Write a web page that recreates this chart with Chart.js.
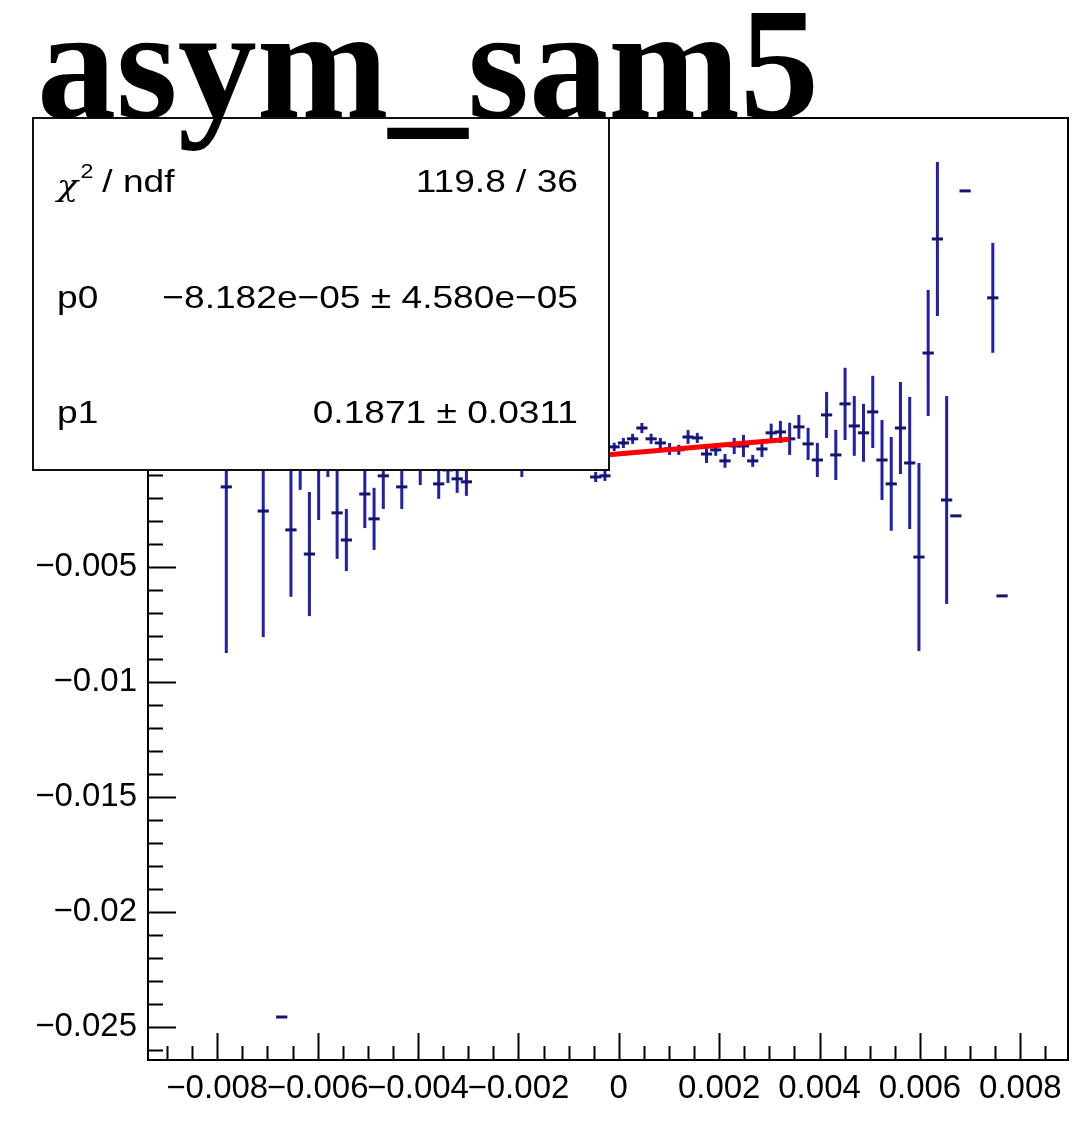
<!DOCTYPE html>
<html>
<head>
<meta charset="utf-8">
<script src="https://cdn.jsdelivr.net/npm/chart.js@4.4.1/dist/chart.umd.min.js"></script>
<style>
  html, body { margin: 0; padding: 0; background: #fff; }
  #wrap { width: 1088px; height: 1128px; }
</style>
</head>
<body>
<div id="wrap"><canvas id="asym-chart" width="1088" height="1128"></canvas></div>
<script>
const chartTitle = 'asym_sam5';

// histogram binning (100 bins)
const binLow = -0.0092;
const binWidth = 0.000184;

// filled bins, contents and errors
const bins = [7, 11, 13, 14, 15, 16, 17, 18, 19, 20, 22, 23, 24, 26, 28, 30, 31, 32, 33,
  34, 35, 36, 37, 38, 39, 40, 41, 42, 43, 44, 45, 46, 47, 48, 49, 50, 51, 52, 53, 54,
  55, 56, 57, 58, 59, 60, 61, 62, 63, 64, 65, 66, 67, 68, 69, 70, 71, 72, 73, 74, 75,
  76, 77, 78, 79, 80, 81, 82, 83, 84, 85, 86, 87, 90, 91];
const values = [-0.00152, -0.00257, -0.02457, -0.00339, -0.00013, -0.00444, -0.00035, -0.00044, -0.00265, -0.00383,
  -0.00183, -0.00291, -0.00104, -0.00152, -0.00061, -0.00139, -0.00078, -0.00117, -0.00130,
  -0.00050, -0.00040, -0.00050, -0.00030, -0.00040, -0.00057, -0.00030, -0.00020, -0.00040, -0.00010, -0.00030,
  -0.00020, -0.00040, -0.00109, -0.00104, 0.00022, 0.00039, 0.00057, 0.00104, 0.00057, 0.00039,
  0.00013, 0.00009, 0.00065, 0.00061, -0.00009, 0.00009, -0.00039, 0.00026, 0.00026, -0.00039,
  0.00013, 0.00083, 0.00087, 0.00057, 0.00109, 0.00035, -0.00035, 0.00161, -0.00013, 0.00209, 0.00113,
  0.00083, 0.00174, -0.00035, -0.00139, 0.00104, -0.00048, -0.00457, 0.00430, 0.00926, -0.00209,
  -0.00278, 0.01135, 0.00670, -0.00626];
const errors = [0.00722, 0.00548, 0, 0.00291, 0.00152, 0.00270, 0.00261, 0.00065, 0.00200, 0.00135,
  0.00148, 0.00135, 0.00144, 0.00096, 0.00083, 0.00065, 0.00057, 0.00061, 0.00061,
  0.00030, 0.00030, 0.00028, 0.00028, 0.00027, 0.00052, 0.00025, 0.00025, 0.00024, 0.00024, 0.00023,
  0.00023, 0.00022, 0.00022, 0.00022, 0.00018, 0.00022, 0.00022, 0.00022, 0.00022, 0.00022,
  0.00026, 0.00022, 0.00030, 0.00022, 0.00039, 0.00026, 0.00030, 0.00035, 0.00048, 0.00026,
  0.00035, 0.00040, 0.00048, 0.00070, 0.00052, 0.00070, 0.00074, 0.00100, 0.00109, 0.00157, 0.00130,
  0.00126, 0.00157, 0.00174, 0.00204, 0.00200, 0.00287, 0.00409, 0.00274, 0.00335, 0.00452,
  0, 0, 0.00239, 0];

// pol1 fit
const fitP0 = -8.182e-05;
const fitP1 = 0.1871;
const fitRange = [-0.0034, 0.0034];

const xTicks = [-0.008, -0.006, -0.004, -0.002, 0, 0.002, 0.004, 0.006, 0.008];
const yTicks = [0.01, 0.005, 0, -0.005, -0.01, -0.015, -0.02, -0.025];

const statsRows = [
  ['chi2', '119.8 / 36'],
  ['p0', '\u22128.182e\u221205 \u00b1 4.580e\u221205'],
  ['p1', '0.1871 \u00b1 0.0311'],
];

const points = bins.map((b, i) => ({ x: binLow + (b + 0.5) * binWidth, y: values[i], err: errors[i] }));
const fitLine = fitRange.map(x => ({ x: x, y: fitP0 + fitP1 * x }));

const fmt = v => String(v).replace('-', '\u2212');

// stats text is a bit wider than Liberation Sans, stretch it
const stretch = 1.16;
const statsFont = '32px "Liberation Sans", Arial, sans-serif';

const rootAxes = {
  id: 'rootAxes',
  beforeDatasetsDraw(chart) {
    const { ctx, chartArea: a, scales: { x, y } } = chart;
    ctx.save();
    ctx.beginPath();
    ctx.rect(a.left, a.top, a.right - a.left, a.bottom - a.top);
    ctx.clip();
    const half = (x.getPixelForValue(binWidth) - x.getPixelForValue(0)) / 2;
    points.forEach(p => {
      const px = x.getPixelForValue(p.x);
      const py = y.getPixelForValue(p.y);
      if (p.err > 0) {
        ctx.strokeStyle = '#2020aa';
        ctx.lineWidth = 3;
        ctx.beginPath();
        ctx.moveTo(px, y.getPixelForValue(p.y + p.err));
        ctx.lineTo(px, y.getPixelForValue(p.y - p.err));
        ctx.stroke();
      }
      ctx.strokeStyle = '#15156e';
      ctx.lineWidth = 3;
      ctx.beginPath();
      ctx.moveTo(px - half - 1, py);
      ctx.lineTo(px + half + 1, py);
      ctx.stroke();
    });
    ctx.restore();
  },
  afterDraw(chart) {
    const { ctx, chartArea: a, scales: { x, y } } = chart;
    ctx.save();
    ctx.strokeStyle = '#000';
    ctx.lineWidth = 2;
    // ticks, drawn inwards like ROOT
    ctx.beginPath();
    for (let v = -0.009; v <= 0.00851; v += 0.0005) {
      const px = Math.round(x.getPixelForValue(v)) + 0.5;
      const major = xTicks.some(t => Math.abs(t - v) < 1e-7);
      ctx.moveTo(px, a.bottom);
      ctx.lineTo(px, a.bottom - (major ? 27 : 14));
    }
    for (let v = -0.026; v <= 0.01401; v += 0.001) {
      const py = Math.round(y.getPixelForValue(v)) + 0.5;
      const major = yTicks.some(t => Math.abs(t - v) < 1e-7);
      ctx.moveTo(a.left, py);
      ctx.lineTo(a.left + (major ? 28 : 15), py);
    }
    ctx.stroke();
    ctx.strokeRect(a.left, a.top, a.right - a.left, a.bottom - a.top);

    // stats box
    const bx = 33, by = 118, bw = 576, bh = 352;
    ctx.fillStyle = '#fff';
    ctx.fillRect(bx, by, bw, bh);
    ctx.strokeStyle = '#111';
    ctx.lineWidth = 2;
    ctx.strokeRect(bx, by, bw, bh);
    ctx.fillStyle = '#000';
    ctx.textBaseline = 'alphabetic';
    statsRows.forEach((r, i) => {
      const base = 192 + i * 115.5;
      ctx.save();
      ctx.translate(57, base);
      ctx.scale(stretch, 1);
      ctx.textAlign = 'left';
      if (r[0] === 'chi2') {
        ctx.font = 'italic 30px "DejaVu Serif", serif';
        ctx.fillText('\u03c7', 0, 4);
        const w = ctx.measureText('\u03c7').width;
        ctx.font = '20px "Liberation Sans", Arial, sans-serif';
        ctx.fillText('2', w + 2, -14);
        ctx.font = statsFont;
        ctx.fillText(' / ndf', w + 12, 0);
      } else {
        ctx.font = statsFont;
        ctx.fillText(r[0], 0, 0);
      }
      ctx.restore();
      ctx.save();
      ctx.translate(578, base);
      ctx.scale(stretch, 1);
      ctx.font = statsFont;
      ctx.textAlign = 'right';
      ctx.fillText(r[1], 0, 0);
      ctx.restore();
    });

    // title
    ctx.font = 'bold 160px "Liberation Serif", "Times New Roman", serif';
    const tw = ctx.measureText(chartTitle).width;
    const size = 160 * 782 / tw;
    ctx.font = `bold ${size}px "Liberation Serif", "Times New Roman", serif`;
    ctx.textAlign = 'left';
    ctx.fillText(chartTitle, 37, 117);
    ctx.restore();
  }
};

const container = document.getElementById('asym-chart').getContext('2d');
const chart = new Chart(container, {
  type: 'scatter',
  data: {
    datasets: [
      {
        label: 'fit',
        data: fitLine,
        showLine: true,
        borderColor: '#ff0000',
        borderWidth: 5,
        pointRadius: 0,
      },
      {
        label: chartTitle,
        data: points,
        pointRadius: 0,
        showLine: false,
      },
    ],
  },
  options: {
    responsive: false,
    animation: false,
    layout: { padding: { top: 118, right: 20, left: 0, bottom: 0 } },
    plugins: {
      legend: { display: false },
      title: { display: false },
      tooltip: { enabled: false },
    },
    scales: {
      x: {
        type: 'linear',
        min: -0.00938,
        max: 0.00895,
        afterFit: s => { s.height = 68; },
        afterBuildTicks: s => { s.ticks = xTicks.map(v => ({ value: v })); },
        grid: { display: false, drawTicks: false },
        border: { display: false },
        ticks: {
          autoSkip: false,
          maxRotation: 0,
          padding: 9,
          color: '#000',
          font: { family: '"Liberation Sans", Arial, sans-serif', size: 33 },
          callback: v => fmt(v),
        },
      },
      y: {
        type: 'linear',
        min: -0.02644,
        max: 0.01452,
        afterFit: s => { s.width = 148; },
        afterBuildTicks: s => { s.ticks = yTicks.map(v => ({ value: v })); },
        grid: { display: false, drawTicks: false },
        border: { display: false },
        ticks: {
          autoSkip: false,
          padding: 11,
          color: '#000',
          font: { family: '"Liberation Sans", Arial, sans-serif', size: 33 },
          callback: v => fmt(v),
        },
      },
    },
  },
  plugins: [rootAxes],
});
</script>
</body>
</html>
